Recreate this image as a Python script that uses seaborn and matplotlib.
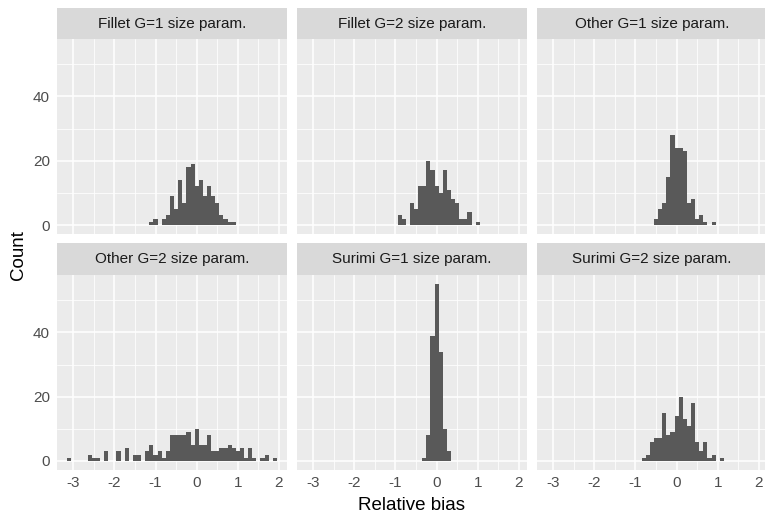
import numpy as np
import pandas as pd
import matplotlib
matplotlib.use("Agg")
import matplotlib.pyplot as plt
import seaborn as sns

# ---- data (bin centers, width 0.1, and counts) ----
panels = ["Fillet G=1 size param.", "Fillet G=2 size param.", "Other G=1 size param.",
          "Other G=2 size param.", "Surimi G=1 size param.", "Surimi G=2 size param."]

fillet1_x = [-1.1, -1.0, -0.8, -0.7, -0.6, -0.5, -0.4, -0.3, -0.2, -0.1, 0.0, 0.1, 0.2, 0.3, 0.4, 0.5, 0.6, 0.7, 0.8, 0.9]
fillet1_n = [1, 2, 2, 3, 9, 5, 14, 7, 18, 19, 12, 14, 9, 12, 9, 7, 3, 2, 1, 1]

fillet2_x = [-0.9, -0.8, -0.6, -0.5, -0.4, -0.3, -0.2, -0.1, 0.0, 0.1, 0.2, 0.3, 0.4, 0.5, 0.6, 0.7, 0.8, 1.0]
fillet2_n = [3, 2, 7, 5, 12, 12, 20, 17, 12, 10, 17, 11, 8, 7, 2, 2, 4, 1]

other1_x = [-0.5, -0.4, -0.3, -0.2, -0.1, 0.0, 0.1, 0.2, 0.3, 0.4, 0.5, 0.6, 0.7, 0.9]
other1_n = [2, 5, 7, 15, 28, 24, 24, 23, 7, 8, 2, 3, 1, 1]

other2_x = [-3.1, -2.6, -2.5, -2.4, -2.2, -1.9, -1.7, -1.5, -1.4, -1.2, -1.1, -1.0, -0.9, -0.8, -0.7,
            -0.6, -0.5, -0.4, -0.3, -0.2, -0.1, 0.0, 0.1, 0.2, 0.3, 0.4, 0.5, 0.6, 0.7, 0.8, 0.9,
            1.0, 1.1, 1.2, 1.3, 1.4, 1.6, 1.7, 1.9]
other2_n = [1, 2, 1, 1, 3, 3, 4, 2, 2, 3, 5, 2, 3, 1, 3,
            8, 8, 8, 8, 9, 5, 10, 5, 5, 8, 3, 3, 4, 4, 5, 4,
            3, 4, 1, 4, 1, 1, 2, 1]

surimi1_x = [-0.3, -0.2, -0.1, 0.0, 0.1, 0.2, 0.3]
surimi1_n = [1, 8, 39, 55, 34, 10, 3]

surimi2_x = [-0.8, -0.7, -0.6, -0.5, -0.4, -0.3, -0.2, -0.1, 0.0, 0.1, 0.2, 0.3, 0.4, 0.5, 0.6, 0.7, 0.8, 0.9, 1.1]
surimi2_n = [1, 2, 6, 7, 7, 15, 8, 9, 14, 20, 13, 11, 18, 6, 3, 6, 1, 2, 1]

x_ticks = [-3, -2, -1, 0, 1, 2]
y_ticks = [0, 20, 40]

series = [(fillet1_x, fillet1_n), (fillet2_x, fillet2_n), (other1_x, other1_n),
          (other2_x, other2_n), (surimi1_x, surimi1_n), (surimi2_x, surimi2_n)]

rows = []
for name, (xs, ns) in zip(panels, series):
    for x, n in zip(xs, ns):
        rows.append({"panel": name, "bias": x, "count": n})
df = pd.DataFrame(rows)

# ---- style ----
sns.set_theme(style="white")
plt.rcParams["font.family"] = ["Liberation Sans", "DejaVu Sans"]

W, H = 765, 514
fig = plt.figure(figsize=(W / 100, H / 100), dpi=100)

def rect(l, t, r, b):
    return [l / W, 1 - b / H, (r - l) / W, (b - t) / H]

col_lr = [(56.6, 287.4), (296.5, 527.3), (536.5, 767.3)]
row_panel = [(39.3, 233.9), (275.3, 469.8)]
row_strip = [(8.0, 39.3), (243.0, 275.3)]

xlim = (-3.405, 2.205)
ylim = (-2.75, 57.75)

for i, name in enumerate(panels):
    r, c = divmod(i, 3)
    l, rr = col_lr[c]
    t, b = row_panel[r]
    ax = fig.add_axes(rect(l, t, rr, b))
    ax.set_facecolor("#EBEBEB")
    ax.set_xlim(*xlim)
    ax.set_ylim(*ylim)
    # grid
    for v in [-2.5, -1.5, -0.5, 0.5, 1.5]:
        ax.axvline(v, color="white", lw=0.55, zorder=0)
    for v in [10, 30, 50]:
        ax.axhline(v, color="white", lw=0.55, zorder=0)
    for v in x_ticks:
        ax.axvline(v, color="white", lw=1.1, zorder=0)
    for v in y_ticks:
        ax.axhline(v, color="white", lw=1.1, zorder=0)
    sub = df[df["panel"] == name]
    sns.histplot(data=sub, x="bias", weights="count", binwidth=0.1, binrange=(-3.15, 1.95),
                 color="#595959", alpha=1, edgecolor="none", linewidth=0, ax=ax, zorder=2)
    ax.set_xlim(*xlim)
    ax.set_ylim(*ylim)
    ax.set_xlabel("")
    ax.set_ylabel("")
    for s in ax.spines.values():
        s.set_visible(False)
    ax.set_xticks(x_ticks)
    ax.set_yticks(y_ticks)
    ax.tick_params(axis="both", length=2.7, width=0.8, color="#333333",
                   labelcolor="#4D4D4D", labelsize=11, pad=2)
    if r == 0:
        ax.tick_params(axis="x", length=0, labelbottom=False)
    if c != 0:
        ax.tick_params(axis="y", length=0, labelleft=False)
    ax.set_xticklabels([str(v) for v in x_ticks])
    ax.set_yticklabels([str(v) for v in y_ticks])

    st, sb = row_strip[r]
    sax = fig.add_axes(rect(l, st, rr, sb))
    sax.set_facecolor("#D9D9D9")
    sax.set_xticks([])
    sax.set_yticks([])
    for s in sax.spines.values():
        s.set_visible(False)
    sax.text(0.5, 0.5, name, ha="center", va="center", fontsize=11, color="#1A1A1A",
             transform=sax.transAxes)

fig.text(412 / W, 1 - 505 / H, "Relative bias", ha="center", va="center", fontsize=13.5, color="black")
fig.text(18 / W, 1 - 255 / H, "Count", ha="center", va="center", rotation=90, fontsize=13.5, color="black")

fig.savefig("out.png", dpi=100)
